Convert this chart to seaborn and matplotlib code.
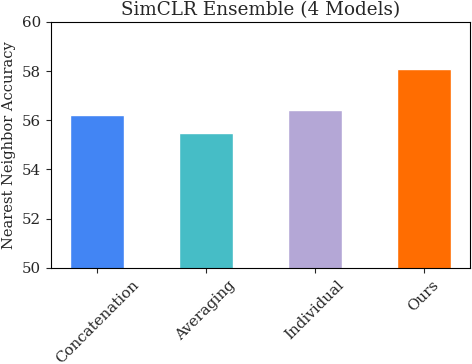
import matplotlib
matplotlib.use("Agg")
import matplotlib.pyplot as plt
import seaborn as sns
import pandas as pd

methods = ["Concatenation", "Averaging", "Individual", "Ours"]
accuracy = [56.2, 55.5, 56.4, 58.1]
bar_colors = ["#4285F4", "#46BDC6", "#B4A7D6", "#FF6D01"]

df = pd.DataFrame({"method": methods, "accuracy": accuracy})

sns.set_style("ticks")
plt.rcParams['font.family'] = ['DejaVu Serif']

fig, ax = plt.subplots(figsize=(4.72, 3.64), dpi=100)
sns.barplot(data=df, x="method", y="accuracy", hue="method", palette=bar_colors,
            width=0.5, legend=False, saturation=1, ax=ax)

ax.set_xlim(-0.425, 3.425)
ax.set_ylim(50, 60)
ax.set_yticks([50, 52, 54, 56, 58, 60])
ax.set_title("SimCLR Ensemble (4 Models)", fontsize=13.2, pad=5)
ax.set_xlabel("")
ax.set_ylabel("Nearest Neighbor Accuracy", fontsize=10.5)
ax.tick_params(labelsize=10.8)
plt.setp(ax.get_xticklabels(), rotation=45)
for s in ax.spines.values():
    s.set_visible(True)
    s.set_color("black")

plt.subplots_adjust(left=0.108, right=0.996, top=0.94, bottom=0.264)
plt.savefig("out.png", dpi=100)
